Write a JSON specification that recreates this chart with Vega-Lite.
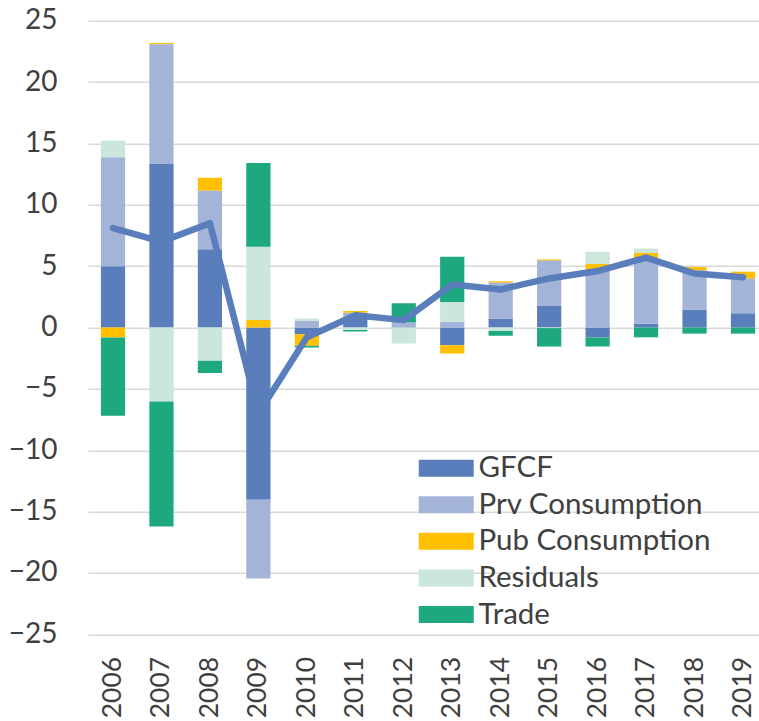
{
  "$schema": "https://vega.github.io/schema/vega-lite/v6.json",
  "autosize": "none",
  "width": 671,
  "height": 613.6,
  "padding": {"left": 88, "top": 20.7, "right": 0, "bottom": 86.7},
  "background": "white",
  "config": {
    "view": {"stroke": null},
    "font": "Lato",
    "axis": {"labelFont": "Lato", "labelColor": "#404040", "title": null}
  },
  "datasets": {
    "parts": [
      {"year": "2006", "component": "GFCF", "value": 5.0},
      {"year": "2006", "component": "Prv Consumption", "value": 8.87},
      {"year": "2006", "component": "Pub Consumption", "value": -0.81},
      {"year": "2006", "component": "Residuals", "value": 1.36},
      {"year": "2006", "component": "Trade", "value": -6.38},
      {"year": "2007", "component": "GFCF", "value": 13.33},
      {"year": "2007", "component": "Prv Consumption", "value": 9.76},
      {"year": "2007", "component": "Pub Consumption", "value": 0.1},
      {"year": "2007", "component": "Residuals", "value": -6.02},
      {"year": "2007", "component": "Trade", "value": -10.19},
      {"year": "2008", "component": "GFCF", "value": 6.37},
      {"year": "2008", "component": "Prv Consumption", "value": 4.79},
      {"year": "2008", "component": "Pub Consumption", "value": 1.04},
      {"year": "2008", "component": "Residuals", "value": -2.71},
      {"year": "2008", "component": "Trade", "value": -1.0},
      {"year": "2009", "component": "GFCF", "value": -14.04},
      {"year": "2009", "component": "Prv Consumption", "value": -6.42},
      {"year": "2009", "component": "Pub Consumption", "value": 0.62},
      {"year": "2009", "component": "Residuals", "value": 5.96},
      {"year": "2009", "component": "Trade", "value": 6.83},
      {"year": "2010", "component": "GFCF", "value": -0.55},
      {"year": "2010", "component": "Prv Consumption", "value": 0.54},
      {"year": "2010", "component": "Pub Consumption", "value": -0.94},
      {"year": "2010", "component": "Residuals", "value": 0.19},
      {"year": "2010", "component": "Trade", "value": -0.14},
      {"year": "2011", "component": "GFCF", "value": 0.9},
      {"year": "2011", "component": "Prv Consumption", "value": 0.3},
      {"year": "2011", "component": "Pub Consumption", "value": 0.15},
      {"year": "2011", "component": "Residuals", "value": -0.2},
      {"year": "2011", "component": "Trade", "value": -0.13},
      {"year": "2012", "component": "GFCF", "value": 0.05},
      {"year": "2012", "component": "Prv Consumption", "value": 0.35},
      {"year": "2012", "component": "Pub Consumption", "value": 0.0},
      {"year": "2012", "component": "Residuals", "value": -1.3},
      {"year": "2012", "component": "Trade", "value": 1.58},
      {"year": "2013", "component": "GFCF", "value": -1.44},
      {"year": "2013", "component": "Prv Consumption", "value": 0.46},
      {"year": "2013", "component": "Pub Consumption", "value": -0.68},
      {"year": "2013", "component": "Residuals", "value": 1.62},
      {"year": "2013", "component": "Trade", "value": 3.69},
      {"year": "2014", "component": "GFCF", "value": 0.73},
      {"year": "2014", "component": "Prv Consumption", "value": 2.93},
      {"year": "2014", "component": "Pub Consumption", "value": 0.1},
      {"year": "2014", "component": "Residuals", "value": -0.28},
      {"year": "2014", "component": "Trade", "value": -0.4},
      {"year": "2015", "component": "GFCF", "value": 1.76},
      {"year": "2015", "component": "Prv Consumption", "value": 3.71},
      {"year": "2015", "component": "Pub Consumption", "value": 0.08},
      {"year": "2015", "component": "Residuals", "value": -0.05},
      {"year": "2015", "component": "Trade", "value": -1.5},
      {"year": "2016", "component": "GFCF", "value": -0.81},
      {"year": "2016", "component": "Prv Consumption", "value": 4.66},
      {"year": "2016", "component": "Pub Consumption", "value": 0.54},
      {"year": "2016", "component": "Residuals", "value": 0.97},
      {"year": "2016", "component": "Trade", "value": -0.73},
      {"year": "2017", "component": "GFCF", "value": 0.3},
      {"year": "2017", "component": "Prv Consumption", "value": 5.3},
      {"year": "2017", "component": "Pub Consumption", "value": 0.48},
      {"year": "2017", "component": "Residuals", "value": 0.35},
      {"year": "2017", "component": "Trade", "value": -0.8},
      {"year": "2018", "component": "GFCF", "value": 1.45},
      {"year": "2018", "component": "Prv Consumption", "value": 3.21},
      {"year": "2018", "component": "Pub Consumption", "value": 0.27},
      {"year": "2018", "component": "Residuals", "value": 0.0},
      {"year": "2018", "component": "Trade", "value": -0.5},
      {"year": "2019", "component": "GFCF", "value": 1.16},
      {"year": "2019", "component": "Prv Consumption", "value": 2.84},
      {"year": "2019", "component": "Pub Consumption", "value": 0.55},
      {"year": "2019", "component": "Residuals", "value": 0.0},
      {"year": "2019", "component": "Trade", "value": -0.5}
    ],
    "total": [
      {"year": "2006", "total": 8.1},
      {"year": "2007", "total": 7.0},
      {"year": "2008", "total": 8.5},
      {"year": "2009", "total": -7.0},
      {"year": "2010", "total": -0.8},
      {"year": "2011", "total": 1.0},
      {"year": "2012", "total": 0.6},
      {"year": "2013", "total": 3.5},
      {"year": "2014", "total": 3.1},
      {"year": "2015", "total": 4.0},
      {"year": "2016", "total": 4.6},
      {"year": "2017", "total": 5.7},
      {"year": "2018", "total": 4.4},
      {"year": "2019", "total": 4.1}
    ]
  },
  "layer": [
    {
      "data": {"name": "parts"},
      "mark": {"type": "bar"},
      "encoding": {
        "x": {
          "field": "year",
          "type": "ordinal",
          "scale": {"range": [0, 680], "paddingInner": 0.5, "paddingOuter": 0.266},
          "axis": {
            "domain": false,
            "ticks": false,
            "grid": false,
            "labelAngle": -90,
            "labelFontSize": 26.5,
            "labelPadding": 22,
            "labelColor": "#404040"
          }
        },
        "y": {
          "field": "value",
          "type": "quantitative",
          "stack": "zero",
          "scale": {"domain": [-25, 25], "nice": false},
          "axis": {
            "values": [-25, -20, -15, -10, -5, 0, 5, 10, 15, 20, 25],
            "domain": false,
            "ticks": false,
            "grid": true,
            "gridColor": "#D9D9D9",
            "gridWidth": 1.5,
            "labelFontSize": 28,
            "labelPadding": 31,
            "labelColor": "#404040"
          }
        },
        "color": {
          "field": "component",
          "type": "nominal",
          "scale": {
            "domain": ["GFCF", "Prv Consumption", "Pub Consumption", "Residuals", "Trade"],
            "range": ["#5A7EBC", "#A4B3D8", "#FFC000", "#CBE7DB", "#1DA87F"]
          },
          "legend": {
            "title": null,
            "orient": "none",
            "legendX": 343.5,
            "legendY": 432.7,
            "padding": 0,
            "symbolType": "M-2.75,-0.85H2.75V0.85H-2.75Z",
            "symbolSize": 400,
            "symbolStrokeWidth": 0,
            "symbolOpacity": 1,
            "labelFont": "Lato",
            "labelFontSize": 29.5,
            "labelColor": "#404040",
            "labelOffset": 17.5,
            "rowPadding": 5.6,
            "labelLimit": 400
          }
        },
        "order": {"field": "component", "sort": "ascending"}
      }
    },
    {
      "data": {"name": "total"},
      "mark": {"type": "line", "color": "#5A7EBC", "strokeWidth": 6.5, "strokeCap": "round", "strokeJoin": "round"},
      "encoding": {
        "x": {"field": "year", "type": "ordinal"},
        "y": {"field": "total", "type": "quantitative"}
      }
    }
  ]
}
